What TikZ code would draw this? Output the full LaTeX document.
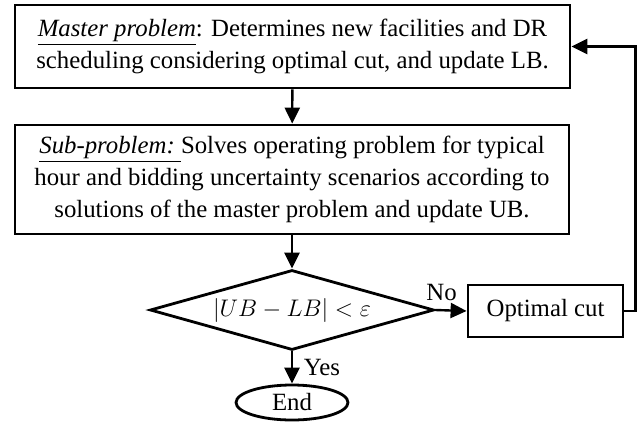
\documentclass[tikz,border=0pt]{standalone}
\usepackage{fontspec}
\setmainfont{Liberation Serif}
\usetikzlibrary{shapes.geometric,arrows.meta}

\tikzset{
  stepbox/.style={draw,line width=1.4pt,align=center,inner sep=2pt},
  arr/.style={line width=1.2pt,-{Triangle[length=8pt,width=7.5pt]}}
}

\begin{document}
\begin{tikzpicture}[x=0.5pt,y=-0.5pt,font=\fontsize{12.4}{16}\selectfont]
  \useasboundingbox (0,0) rectangle (642,429);

  % Boxes
  \node[stepbox,minimum width=277.5pt,minimum height=41.5pt] (master) at (292.5,46.5)
    {\underline{\textit{Master problem}}: Determines new facilities and DR\\
     scheduling considering optimal cut, and update LB.};
  \node[stepbox,minimum width=277pt,minimum height=54.5pt] (sub) at (292,179.5)
    {\underline{\textit{Sub-problem:}\ }Solves operating problem for typical\\
     hour and bidding uncertainty scenarios according to\\
     solutions of the master problem and update UB.};

  % Decision
  \node[draw,line width=1.4pt,diamond,aspect=3.5,inner sep=0pt,
        minimum width=142pt,minimum height=40pt] (check) at (292,310)
    {$|UB-LB|<\varepsilon$};
  \node[stepbox,minimum width=77.5pt,minimum height=26pt] (opt) at (545.5,311) {Optimal cut};
  \node[draw,line width=1.4pt,ellipse,inner sep=0pt,
        minimum width=56pt,minimum height=17.5pt] (stop) at (292,402.5) {End};

  % Arrows
  \draw[arr] (master) -- (sub);
  \draw[arr] (sub) -- (check);
  \draw[arr] (check) -- node[right,xshift=2pt] {Yes} (stop);
  \draw[arr] (check.east) -- node[pos=0.2,above,yshift=1pt] {No} (opt.west);
  \draw[arr] (opt.east) -- ++(11,0) |- (master.east);
\end{tikzpicture}
\end{document}
